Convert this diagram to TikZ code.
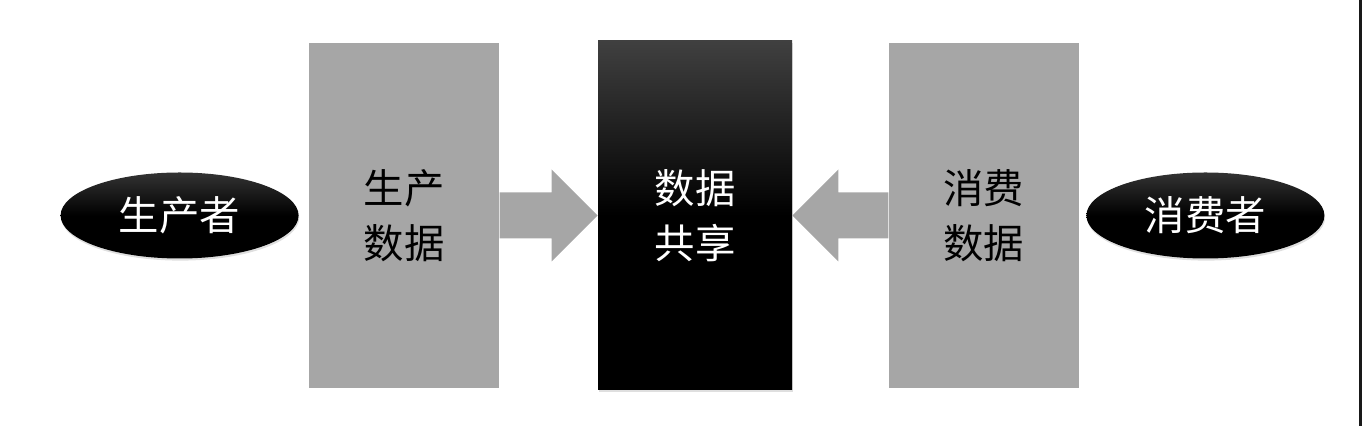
\documentclass[tikz,border=0pt]{standalone}
\usepackage{fontspec}
\setmainfont{Noto Sans CJK SC}
\usetikzlibrary{positioning,calc,shadows,shapes.geometric}
\definecolor{boxgray}{HTML}{A6A6A6}
\tikzset{
	databox/.style={rectangle,fill=boxgray,minimum width=3.8cm,minimum height=6.9cm,inner sep=0pt,align=center,font=\fontsize{23}{31}\selectfont},
	sharebox/.style={rectangle,top color=black!75,bottom color=black,middle color=black,minimum width=3.88cm,minimum height=6.98cm,inner sep=0pt,align=center,text=white,font=\fontsize{23}{31}\selectfont,drop shadow={opacity=0.25,shadow xshift=0.4pt,shadow yshift=-1.2pt}},
	role/.style={ellipse,top color=black!80,bottom color=black,middle color=black,minimum width=4.76cm,minimum height=1.72cm,inner sep=0pt,text=white,font=\fontsize{23}{28}\selectfont,drop shadow={opacity=0.25,shadow xshift=0.4pt,shadow yshift=-1.2pt}}
}
\begin{document}
\begin{tikzpicture}[line cap=round,line join=round,x=1.0cm,y=1.0cm]
		\useasboundingbox (0,0) rectangle (27.24,8.52);
		\node[sharebox] (share) at (13.9,4.21) {数据\\共享};
		\node[databox,left=1.96cm of share] (prod) {生产\\数据};
		\node[databox,right=1.92cm of share] (cons) {消费\\数据};
		\node[role,left=0.2cm of prod] (producer) {生产者};
		\node[role,right=0.14cm of cons] (consumer) {消费者};
		% block arrows
		\fill[boxgray] ($(prod.east)+(0,0.46)$) -- ($(share.west)+(-0.92,0.46)$) -- ($(share.west)+(-0.92,0.92)$) -- (share.west)
			-- ($(share.west)+(-0.92,-0.92)$) -- ($(share.west)+(-0.92,-0.46)$) -- ($(prod.east)+(0,-0.46)$) -- cycle;
		\fill[boxgray] ($(cons.west)+(0,0.46)$) -- ($(share.east)+(0.92,0.46)$) -- ($(share.east)+(0.92,0.92)$) -- (share.east)
			-- ($(share.east)+(0.92,-0.92)$) -- ($(share.east)+(0.92,-0.46)$) -- ($(cons.west)+(0,-0.46)$) -- cycle;
		\fill[black!90] (27.18,0) rectangle (27.24,8.52);
	\end{tikzpicture}
\end{document}
